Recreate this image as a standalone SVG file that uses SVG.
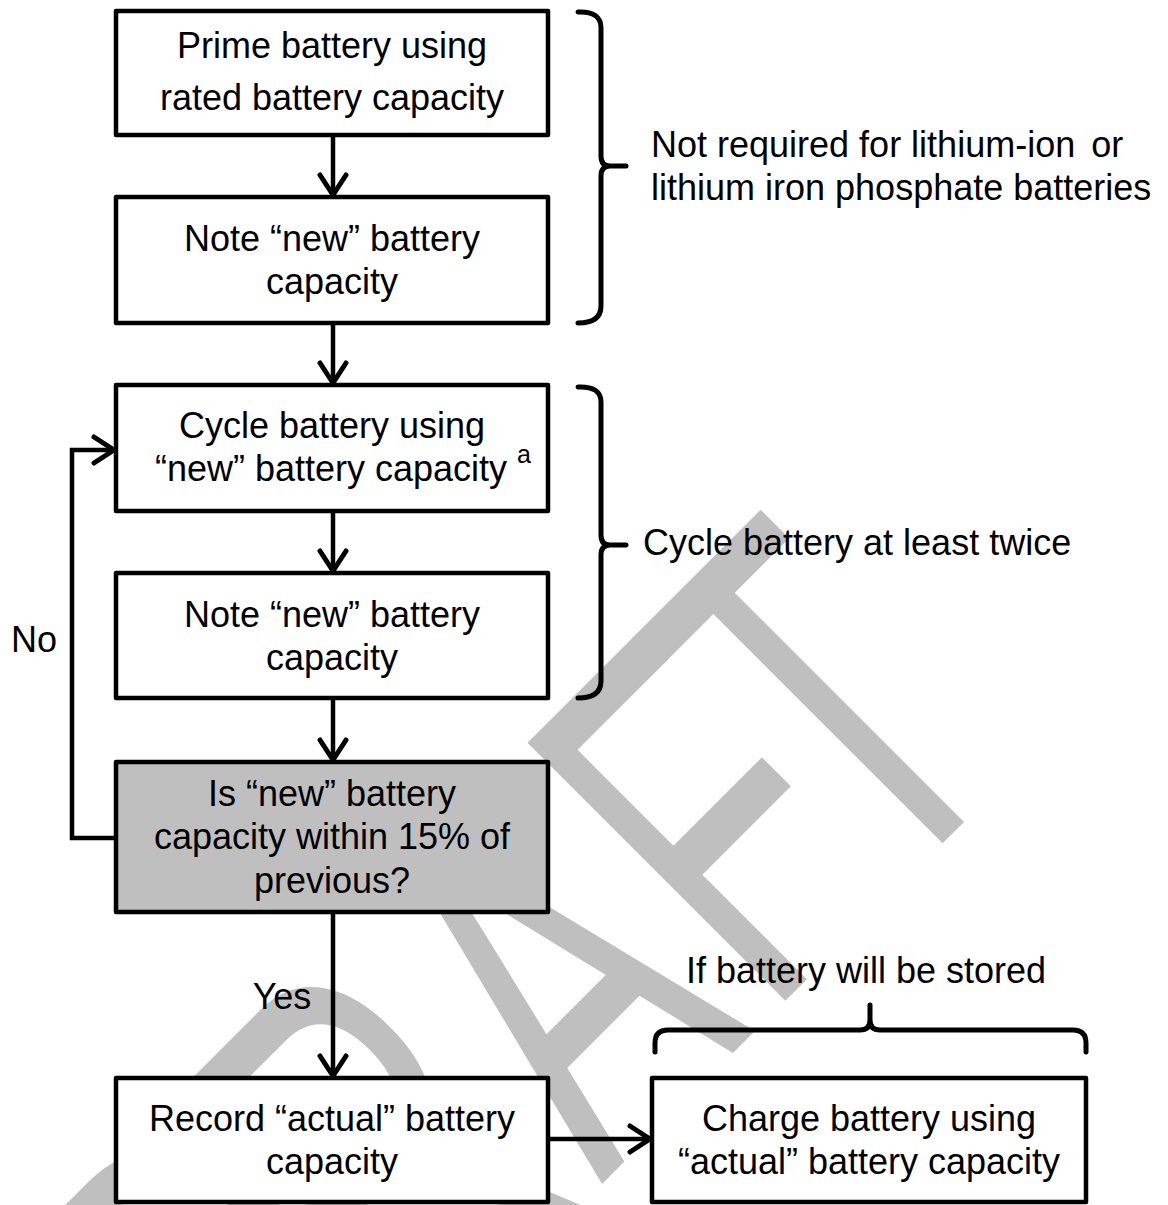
<svg xmlns="http://www.w3.org/2000/svg" width="1168" height="1205" viewBox="0 0 1168 1205">
<defs>
<style>
.box{fill:#fff;stroke:#000;stroke-width:4.5;stroke-linejoin:round}
.dec{fill:#bfbfbf;stroke:#000;stroke-width:4.5;stroke-linejoin:round}
.t{font-family:"Liberation Sans",Arial,sans-serif;font-size:36px;fill:#000}
.c{text-anchor:middle}
.ln{fill:none;stroke:#000;stroke-width:4.5}
.br{fill:none;stroke:#000;stroke-width:5;stroke-linecap:round;stroke-linejoin:round}
.wm{font-family:"Liberation Sans",Arial,sans-serif;font-size:530px;fill:#bfbfbf}
</style>
<marker id="ah" markerUnits="userSpaceOnUse" viewBox="-24 -16 28 32" markerWidth="28" markerHeight="32" refX="0" refY="0" orient="auto">
<path d="M-20,-13 L0,0 L-20,13" fill="none" stroke="#000" stroke-width="5" stroke-linecap="round" stroke-linejoin="round"/>
</marker>
</defs>
<rect width="1168" height="1205" fill="#fff"/>
<g id="watermark">
<text class="wm" transform="translate(893,893) rotate(-45) scale(0.615,1)" x="-1420 -1076 -670 -291 -23" y="0">DRAFT</text>
</g>
<g id="connectors">
<path class="ln" d="M333,135 V195" marker-end="url(#ah)"/>
<path class="ln" d="M333,323 V383" marker-end="url(#ah)"/>
<path class="ln" d="M333,511 V571" marker-end="url(#ah)"/>
<path class="ln" d="M333,698 V760" marker-end="url(#ah)"/>
<path class="ln" d="M333,912 V1076" marker-end="url(#ah)"/>
<path class="ln" d="M116,838 H72 V450 H114" marker-end="url(#ah)"/>
<path class="ln" d="M548,1139 H650" marker-end="url(#ah)"/>
<text class="t c" x="34" y="652">No</text>
<text class="t c" x="282" y="1009">Yes</text>
</g>
<g id="n1"><rect class="box" x="116" y="11" width="432" height="124"/>
<text class="t c" x="332" y="58">Prime battery using</text>
<text class="t c" x="332" y="110">rated battery capacity</text></g>
<g id="n2"><rect class="box" x="116" y="197" width="432" height="126"/>
<text class="t c" x="332" y="251">Note “new” battery</text>
<text class="t c" x="332" y="294">capacity</text></g>
<g id="n3"><rect class="box" x="116" y="385" width="432" height="126"/>
<text class="t c" x="332" y="438">Cycle battery using</text>
<text class="t c" x="331" y="481">“new” battery capacity</text>
<text class="t" x="517" y="463" style="font-size:25px">a</text></g>
<g id="n4"><rect class="box" x="116" y="573" width="432" height="125"/>
<text class="t c" x="332" y="627">Note “new” battery</text>
<text class="t c" x="332" y="670">capacity</text></g>
<g id="n5"><rect class="dec" x="116" y="762" width="432" height="150"/>
<text class="t c" x="332" y="806">Is “new” battery</text>
<text class="t c" x="332" y="849">capacity within 15% of</text>
<text class="t c" x="332" y="893">previous?</text></g>
<g id="n6"><rect class="box" x="116" y="1078" width="432" height="124"/>
<text class="t c" x="332" y="1131">Record “actual” battery</text>
<text class="t c" x="332" y="1174">capacity</text></g>
<g id="n7"><rect class="box" x="652" y="1078" width="434" height="124"/>
<text class="t c" x="869" y="1131">Charge battery using</text>
<text class="t c" x="869" y="1174">“actual” battery capacity</text></g>
<g id="brace1">
<path class="br" d="M578,12 Q601,11 601,28 L601,156 Q601,166 610,166 L626,166 M610,166 Q601,166 601,176 L601,306 Q601,323 578,323"/>
<text class="t" x="651" y="157">Not required for lithium-ion <tspan dx="6">or</tspan></text>
<text class="t" x="651" y="200">lithium iron phosphate batteries</text>
</g>
<g id="brace2">
<path class="br" d="M578,387 Q601,386 601,402 L601,535 Q601,545 610,545 L626,545 M610,545 Q601,545 601,555 L601,681 Q601,698 578,698"/>
<text class="t" x="643" y="555">Cycle battery at least twice</text>
</g>
<g id="brace3">
<path class="br" d="M655,1052 L655,1043 Q655,1030 668,1030 L860,1030 Q870,1030 870,1020 L870,1005 M870,1020 Q870,1030 880,1030 L1073,1030 Q1086,1030 1086,1043 L1086,1052"/>
<text class="t c" x="866" y="983">If battery will be stored</text>
</g>
</svg>
